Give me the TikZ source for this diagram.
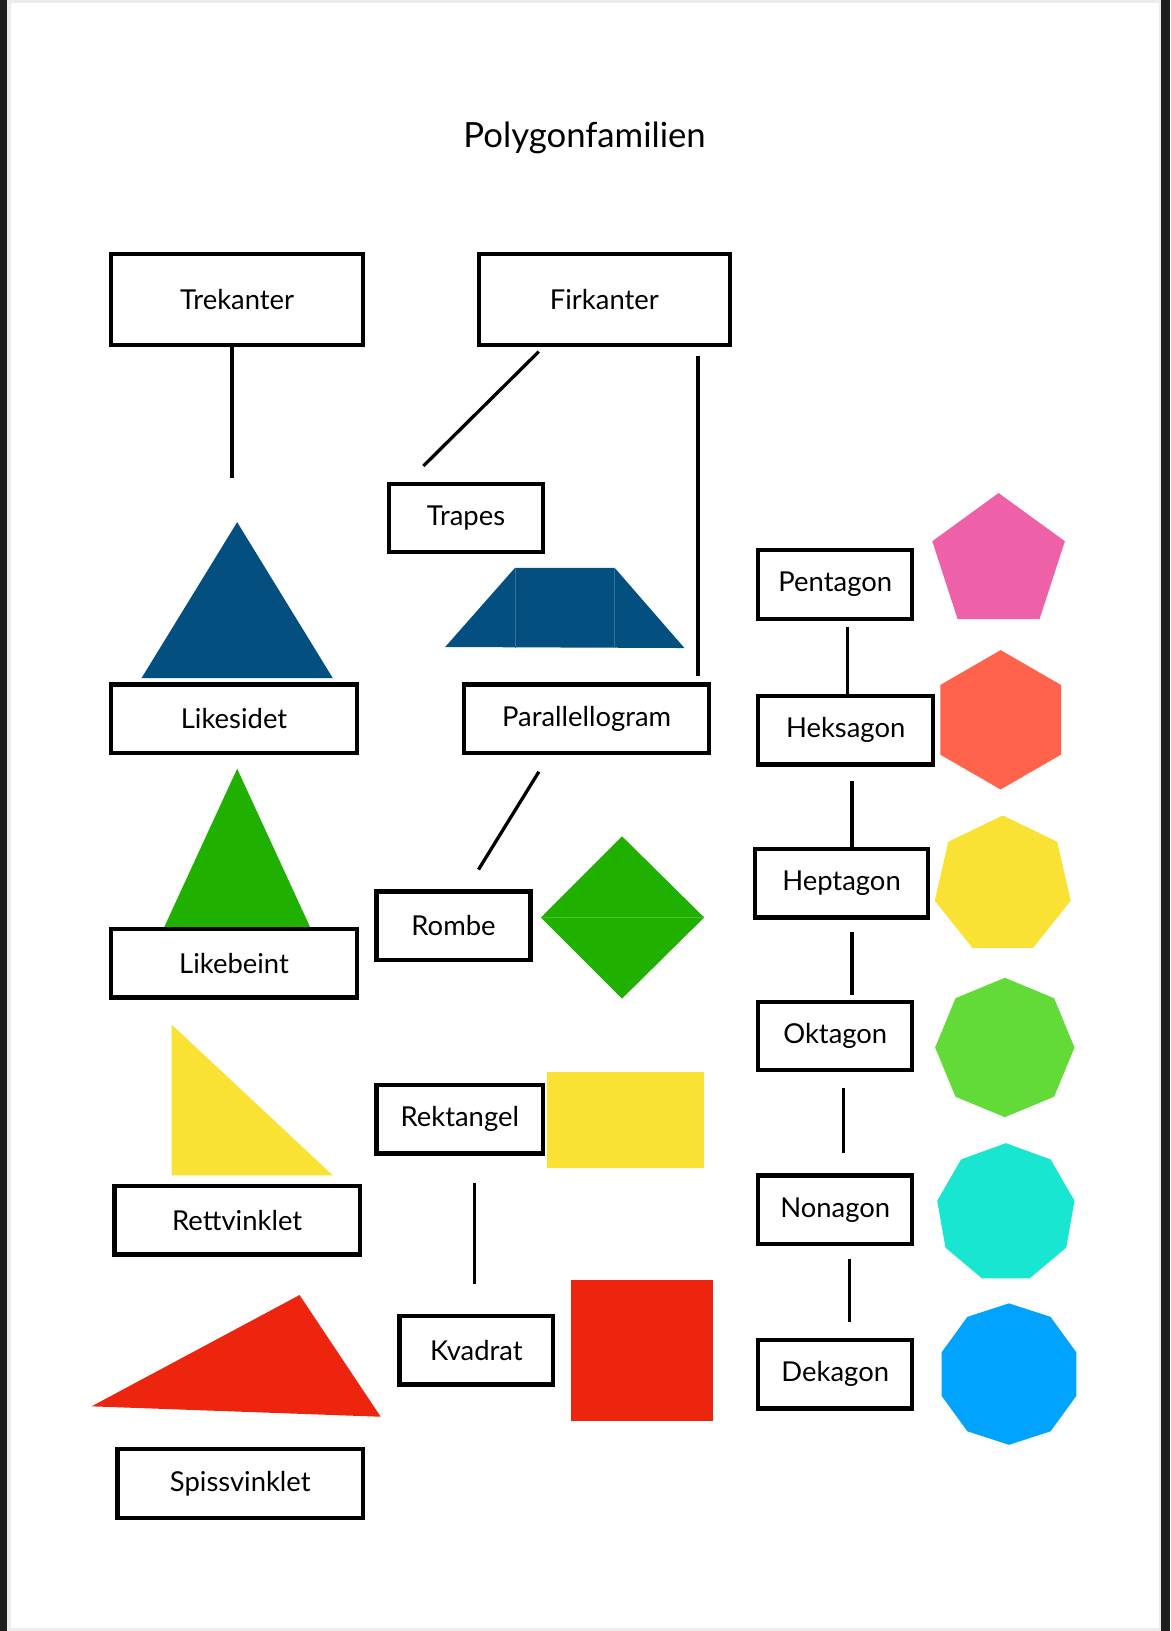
\documentclass[tikz,border=0pt]{standalone}
\usepackage{fontspec}
\setmainfont{Lato}
\definecolor{pagegray}{HTML}{ECECEC}
\definecolor{pageedge}{HTML}{1E1E1E}
\definecolor{tblue}{HTML}{024F80}
\definecolor{tgreen}{HTML}{1FB000}
\definecolor{tyellow}{HTML}{F9E233}
\definecolor{tred}{HTML}{EE250E}
\definecolor{ppink}{HTML}{EE60A8}
\definecolor{phex}{HTML}{FF634C}
\definecolor{poct}{HTML}{62DA37}
\definecolor{pnon}{HTML}{18E6D1}
\definecolor{pdec}{HTML}{00A3FF}

\begin{document}
\begin{tikzpicture}[x=0.02cm,y=-0.02cm,
    box/.style={rectangle,draw,fill=white,line width=2.3pt,inner sep=0pt,
      minimum width=4.72cm,minimum height=1.32cm,font=\fontsize{15}{18}\selectfont},
    link/.style={line width=1.8pt}]
%  \draw[help lines] (0,0) grid (1125,1568);
  \useasboundingbox (0,0) rectangle (1125,1568);
  \fill[pagegray] (0,0) rectangle (1125,1568);
  \fill[white] (11,3) rectangle (1114,1565);
  \fill[pageedge] (0,0) rectangle (7,1568);
  \fill[pageedge] (1116,0) rectangle (1125,1568);

  % figurer
  \fill[tblue] (228,502) -- (320,652) -- (136,652) -- cycle;
  \fill[tblue] (428,622) -- (495,546) -- (591,546) -- (658,623) -- cycle;
  \draw[tblue!80!white,line width=0.4pt] (495,546) -- (495,623) (591,546) -- (591,623);
  \fill[tgreen] (228,739) -- (298,891) -- (158,891) -- cycle;
  \fill[tgreen] (598,804) -- (677,882) -- (598,960) -- (520,882) -- cycle;
  \draw[tgreen!80!white,line width=0.4pt] (521,882) -- (676,882);
  \fill[tyellow] (165,985) -- (320,1130) -- (165,1130) -- cycle;
  \fill[tyellow] (526,1031) rectangle (677,1123);
  \fill[tred] (88,1352) -- (288,1245) -- (366,1362) -- cycle;
  \fill[tred] (549,1231) rectangle (685,1366);
  \foreach \n/\cx/\cy/\r/\c in {5/960/541/67/ppink,6/962/692/67/phex,7/964/851/67/tyellow,
      8/966/1007/67/poct,9/967/1166/67/pnon,10/970/1321/68/pdec}
    \fill[\c] plot[samples at={1,...,\n}] ({\cx+\r*cos(90+360*\x/\n)},{\cy-\r*sin(90+360*\x/\n)}) -- cycle;

  \path (562,133) node(t) [font=\fontsize{19}{22}\selectfont] {Polygonfamilien};
  \path (228,288) node(a) [box,minimum width=4.84cm,minimum height=1.76cm] {Trekanter}
    (581,288) node(b) [box,minimum width=4.82cm,minimum height=1.76cm] {Firkanter}
    (448,498) node(c) [box,minimum width=2.96cm] {Trapes}
    (225,691) node(d) [box] {Likesidet}
    (564,691) node(e) [box] {Parallellogram}
    (225,926) node(f) [box] {Likebeint}
    (436,890) node(g) [box,minimum width=2.96cm] {Rombe}
    (228,1173) node(h) [box] {Rettvinklet}
    (442,1076) node(i) [box,minimum width=3.2cm] {Rektangel}
    (458,1298) node(j) [box,minimum width=2.96cm] {Kvadrat}
    (231,1426) node(k) [box] {Spissvinklet};
  \path (803,562) node(l) [box,minimum width=2.96cm] {Pentagon}
    (813,702) node(m) [box,minimum width=3.36cm] {Heksagon}
    (809,849) node(n) [box,minimum width=3.32cm] {Heptagon}
    (803,996) node(o) [box,minimum width=2.96cm] {Oktagon}
    (803,1163) node(p) [box,minimum width=2.96cm] {Nonagon}
    (803,1321) node(q) [box,minimum width=2.96cm] {Dekagon};

  \coordinate (a1) at (223,460);
  \coordinate (b1) at (518,338);
  \coordinate (c1) at (407,448);
  \coordinate (b2) at (671,342);
  \coordinate (e1) at (671,650);
  \coordinate (e2) at (518,742);
  \coordinate (g1) at (460,836);
  \coordinate (i1) at (456,1137);
  \coordinate (j1) at (456,1234);
  \coordinate (l1) at (815,603);
  \coordinate (m1) at (819,751);
  \coordinate (n1) at (819,896);
  \coordinate (o1) at (819,957);
  \coordinate (o2) at (811,1046);
  \coordinate (p1) at (811,1108);
  \coordinate (p2) at (817,1210);
  \coordinate (q1) at (817,1271);
  \draw[link] (a.south -| a1) -- (a1);
  \draw[link] (b1) -- (c1);
  \draw[link] (b2) -- (e1);
  \draw[link] (e2) -- (g1);
  \draw[link] (i1) -- (j1);
  \draw[link] (l1) -- (m.north -| l1);
  \draw[link] (m1) -- (n.north -| m1);
  \draw[link] (n1) -- (o1);
  \draw[link] (o2) -- (p1);
  \draw[link] (p2) -- (q1);
\end{tikzpicture}
\end{document}
